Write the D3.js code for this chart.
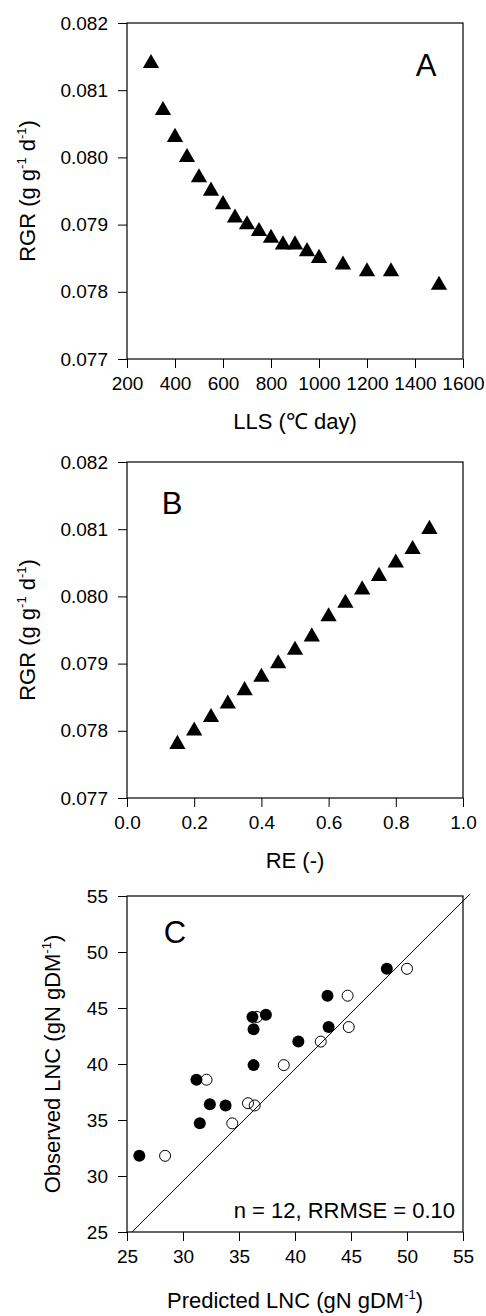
<!DOCTYPE html>
<html>
<head>
<meta charset="utf-8">
<script src="https://cdn.jsdelivr.net/npm/d3@7"></script>
<style>
  body { margin: 0; background: #fff; }
  text { font-family: "Liberation Sans", Arial, sans-serif; fill: #000; }
</style>
</head>
<body>
<script>
// panel A : RGR vs LLS
const llsX = [300, 350, 400, 450, 500, 550, 600, 650, 700, 750, 800, 850, 900, 950, 1000, 1100, 1200, 1300, 1500];
const llsRGR = [0.0814, 0.0807, 0.0803, 0.0800, 0.0797, 0.0795, 0.0793, 0.0791, 0.0790, 0.0789, 0.0788, 0.0787, 0.0787, 0.0786, 0.0785, 0.0784, 0.0783, 0.0783, 0.0781];
const llsTicks = [200, 400, 600, 800, 1000, 1200, 1400, 1600];

// panel B : RGR vs RE
const reX = [0.15, 0.2, 0.25, 0.3, 0.35, 0.4, 0.45, 0.5, 0.55, 0.6, 0.65, 0.7, 0.75, 0.8, 0.85, 0.9];
const reRGR = [0.0778, 0.0780, 0.0782, 0.0784, 0.0786, 0.0788, 0.0790, 0.0792, 0.0794, 0.0797, 0.0799, 0.0801, 0.0803, 0.0805, 0.0807, 0.0810];
const reTicks = [0, 0.2, 0.4, 0.6, 0.8, 1.0];
const rgrTicks = [0.077, 0.078, 0.079, 0.080, 0.081, 0.082];

// panel C : observed vs predicted LNC
const filledPred = [26.1, 31.5, 31.2, 32.4, 33.8, 36.3, 36.3, 36.2, 37.4, 40.3, 42.9, 43.0, 48.2];
const filledObs  = [31.8, 34.7, 38.6, 36.4, 36.3, 39.9, 43.1, 44.2, 44.4, 42.0, 46.1, 43.3, 48.5];
const openPred = [28.4, 34.4, 32.1, 35.8, 36.4, 39.0, 42.3, 44.7, 44.8, 50.0, 36.6];
const openObs  = [31.8, 34.7, 38.6, 36.5, 36.3, 39.9, 42.0, 46.1, 43.3, 48.5, 44.2];
const lncTicks = [25, 30, 35, 40, 45, 50, 55];
const oneToOneX = [25.45, 55.6];
const oneToOneY = [25, 55.15];

const W = 486, H = 1316;
const left = 127, right = 463, plotH = 336;
const tops = [23, 462, 896];

const svg = d3.select("body").append("svg")
  .attr("width", W)
  .attr("height", H);

function panel(top, xDom, yDom, xTicks, yTicks, xFmt, yFmt) {
  const g = svg.append("g");
  const x = d3.scaleLinear().domain(xDom).range([left, right]);
  const y = d3.scaleLinear().domain(yDom).range([top + plotH, top]);

  const xa = g.append("g")
    .attr("transform", `translate(0,${top + plotH})`)
    .call(d3.axisBottom(x).tickValues(xTicks).tickFormat(xFmt).tickSize(9).tickPadding(9));
  const ya = g.append("g")
    .attr("transform", `translate(${left},0)`)
    .call(d3.axisLeft(y).tickValues(yTicks).tickFormat(yFmt).tickSize(9).tickPadding(10));
  [xa, ya].forEach(a => {
    a.select(".domain").remove();
    a.selectAll("line").attr("stroke", "#000");
    a.selectAll("text").attr("font-size", 19).attr("font-family", '"Liberation Sans", Arial, sans-serif');
  });
  xa.selectAll("text").attr("dy", "0.71em");

  g.append("rect")
    .attr("x", left).attr("y", top)
    .attr("width", right - left).attr("height", plotH)
    .attr("fill", "none").attr("stroke", "#000").attr("stroke-width", 1.2);
  return { g, x, y };
}

function yTitle(g, cx, cy, main, sup1, mid, sup2, end) {
  const t = g.append("text")
    .attr("transform", `translate(${cx},${cy}) rotate(-90)`)
    .attr("text-anchor", "middle")
    .attr("font-size", 22);
  t.append("tspan").text(main);
  t.append("tspan").attr("font-size", 13).attr("dy", -9).text(sup1);
  if (mid !== null) {
    t.append("tspan").attr("dy", 9).text(mid);
    t.append("tspan").attr("font-size", 13).attr("dy", -9).text(sup2);
  }
  t.append("tspan").attr("dy", 9).text(end);
}

const tri = d3.symbol().type(d3.symbolTriangle).size(115);

// A
const pA = panel(tops[0], [200, 1600], [0.077, 0.082], llsTicks, rgrTicks, d3.format("d"), d3.format(".3f"));
pA.g.selectAll("path.pt").data(llsX).enter().append("path")
  .attr("class", "pt")
  .attr("d", tri)
  .attr("transform", (d, i) => `translate(${pA.x(d)},${pA.y(llsRGR[i])})`)
  .attr("fill", "#000");
pA.g.append("text").attr("x", 426).attr("y", 76).attr("text-anchor", "middle").attr("font-size", 31).text("A");
pA.g.append("text").attr("x", (left + right) / 2).attr("y", tops[0] + plotH + 70)
  .attr("text-anchor", "middle").attr("font-size", 22).text("LLS (℃ day)");
yTitle(pA.g, 35, tops[0] + plotH / 2, "RGR (g g", "-1", " d", "-1", ")");

// B
const pB = panel(tops[1], [0, 1], [0.077, 0.082], reTicks, rgrTicks, d3.format(".1f"), d3.format(".3f"));
pB.g.selectAll("path.pt").data(reX).enter().append("path")
  .attr("class", "pt")
  .attr("d", tri)
  .attr("transform", (d, i) => `translate(${pB.x(d)},${pB.y(reRGR[i])})`)
  .attr("fill", "#000");
pB.g.append("text").attr("x", 172).attr("y", 514).attr("text-anchor", "middle").attr("font-size", 31).text("B");
pB.g.append("text").attr("x", (left + right) / 2).attr("y", tops[1] + plotH + 70)
  .attr("text-anchor", "middle").attr("font-size", 22).text("RE (-)");
yTitle(pB.g, 35, tops[1] + plotH / 2, "RGR (g g", "-1", " d", "-1", ")");

// C
const pC = panel(tops[2], [25, 55], [25, 55], lncTicks, lncTicks, d3.format("d"), d3.format("d"));
pC.g.append("path")
  .datum(oneToOneX.map((d, i) => [d, oneToOneY[i]]))
  .attr("d", d3.line().x(d => pC.x(d[0])).y(d => pC.y(d[1])))
  .attr("stroke", "#000").attr("stroke-width", 1).attr("fill", "none");
pC.g.selectAll("circle.filled").data(filledPred).enter().append("circle")
  .attr("class", "filled")
  .attr("cx", d => pC.x(d))
  .attr("cy", (d, i) => pC.y(filledObs[i]))
  .attr("r", 6)
  .attr("fill", "#000");
pC.g.selectAll("circle.open").data(openPred).enter().append("circle")
  .attr("class", "open")
  .attr("cx", d => pC.x(d))
  .attr("cy", (d, i) => pC.y(openObs[i]))
  .attr("r", 5.5)
  .attr("fill", "none").attr("stroke", "#000").attr("stroke-width", 1);
pC.g.append("text").attr("x", 175).attr("y", 943).attr("text-anchor", "middle").attr("font-size", 31).text("C");
pC.g.append("text").attr("x", 455).attr("y", 1218).attr("text-anchor", "end").attr("font-size", 22)
  .text("n = 12, RRMSE = 0.10");
const xt = pC.g.append("text").attr("x", (left + right) / 2).attr("y", tops[2] + plotH + 76)
  .attr("text-anchor", "middle").attr("font-size", 22);
xt.append("tspan").text("Predicted LNC (gN gDM");
xt.append("tspan").attr("font-size", 13).attr("dy", -9).text("-1");
xt.append("tspan").attr("dy", 9).text(")");
yTitle(pC.g, 60, tops[2] + plotH / 2, "Observed LNC (gN gDM", "-1", null, null, ")");
</script>
</body>
</html>
